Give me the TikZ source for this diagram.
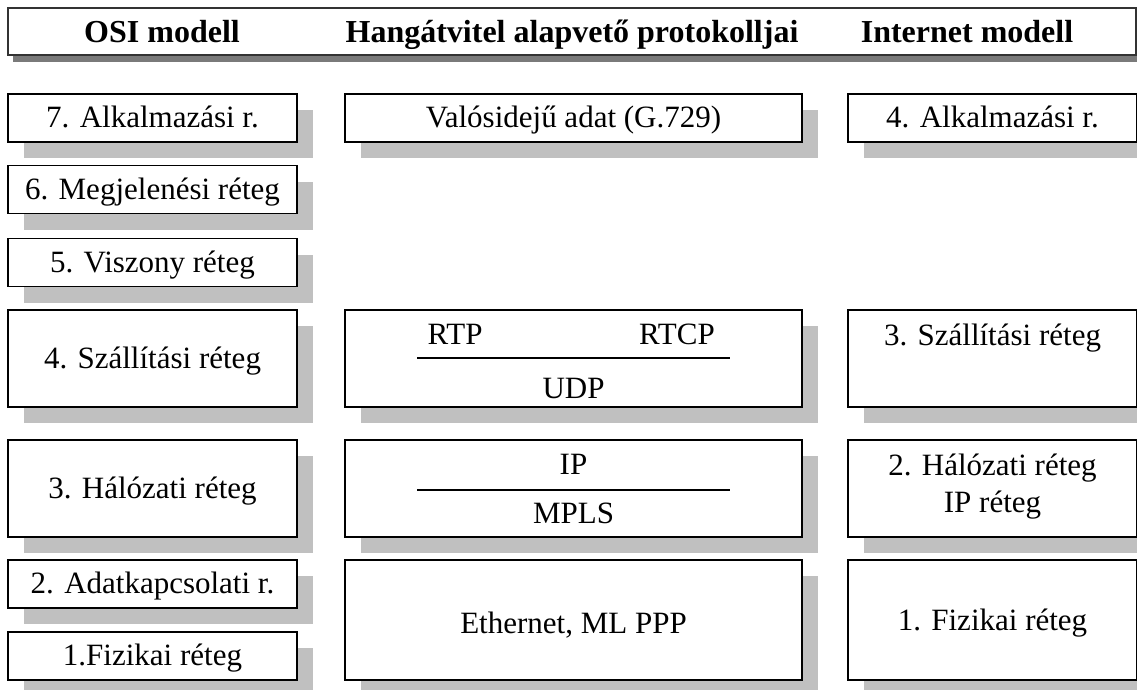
\documentclass[tikz,border=0pt]{standalone}
\usepackage{fontspec}
\setmainfont{Liberation Serif}
\usetikzlibrary{shadows,positioning}

\definecolor{shadegray}{HTML}{C0C0C0}
\definecolor{headgray}{HTML}{7A7A7A}

\tikzset{
  layer/.style={draw=black,line width=1.4pt,fill=white,inner sep=0pt,
    minimum width=289pt,minimum height=48pt,
    font=\fontsize{31}{31}\selectfont,align=center,
    text height=24pt,text depth=5pt,
    drop shadow={shadow xshift=16pt,shadow yshift=-16pt,fill=shadegray,opacity=1}},
  wide/.style={layer,minimum width=457pt},
  tall/.style={minimum height=97pt},
  label/.style={inner sep=0pt,anchor=base,font=\fontsize{31}{31}\selectfont},
  headtext/.style={inner sep=0pt,anchor=base,font=\fontsize{32}{32}\selectfont\bfseries}
}

\begin{document}
\begin{tikzpicture}[x=1pt,y=-1pt]
\useasboundingbox (0,0) rectangle (1137,689);

% header
\node[draw=black!80,line width=1.4pt,fill=white,minimum width=1128pt,minimum height=47pt,
  drop shadow={shadow xshift=5pt,shadow yshift=-7pt,fill=headgray,opacity=1}] (head) at (572,31.5) {};
\node[headtext] (osihead) at (162,42) {OSI modell};
\node[headtext] (hanghead) at (572,42) {Hangátvitel alapvető protokolljai};
\node[headtext] (inethead) at (967,42) {Internet modell};

% OSI modell
\node[layer] (osi7) at (152.5,118) {7. Alkalmazási r.};
\node[layer] (osi6) at (152.5,189.5) {6. Megjelenési réteg};
\node[layer] (osi5) at (152.5,262.5) {5. Viszony réteg};
\node[layer,tall] (osi4) at (152.5,358.5) {4. Szállítási réteg};
\node[layer,tall] (osi3) at (152.5,488.5) {3. Hálózati réteg};
\node[layer] (osi2) at (152.5,584) {2. Adatkapcsolati r.};
\node[layer] (osi1) at (152.5,656) {1.Fizikai réteg};

% protokollok
\node[wide] (valos) at (573.5,118) {Valósidejű adat (G.729)};
\node[wide,tall] (udpbox) at (573.5,358.5) {};
\node[wide,tall] (ipbox) at (573.5,488.5) {};
\node[wide,minimum height=120pt] (ethbox) at (573.5,620) {};

\node[label] (rtp) at (455,344) {RTP};
\node[label] (rtcp) at (677,344) {RTCP};
\node[label] (udp) at (573.5,398) {UDP};
\coordinate (udpL) at (417,358);
\coordinate (udpR) at (730,358);
\draw[line width=1.2pt] (udpL) -- (udpR);

\node[label] (ip) at (573.5,474) {IP};
\node[label] (mpls) at (573.5,523) {MPLS};
\coordinate (ipL) at (417,490);
\coordinate (ipR) at (730,490);
\draw[line width=1.2pt] (ipL) -- (ipR);

\node[label] (eth) at (573.5,633) {Ethernet, ML PPP};

% Internet modell
\node[layer] (inet4) at (992.5,118) {4. Alkalmazási r.};
\node[layer,tall] (inet3) at (992.5,358.5) {};
\node[layer,tall] (inet2) at (992.5,488.5) {};
\node[layer,minimum height=120pt] (inet1) at (992.5,620) {};

\node[label] (inet3txt) at (992.5,345) {3. Szállítási réteg};
\node[label] (inet2txt) at (992.5,475) {2. Hálózati réteg};
\node[label] (inet2ip) at (992.5,512) {IP réteg};
\node[label] (inet1txt) at (992.5,630) {1. Fizikai réteg};
\end{tikzpicture}
\end{document}
